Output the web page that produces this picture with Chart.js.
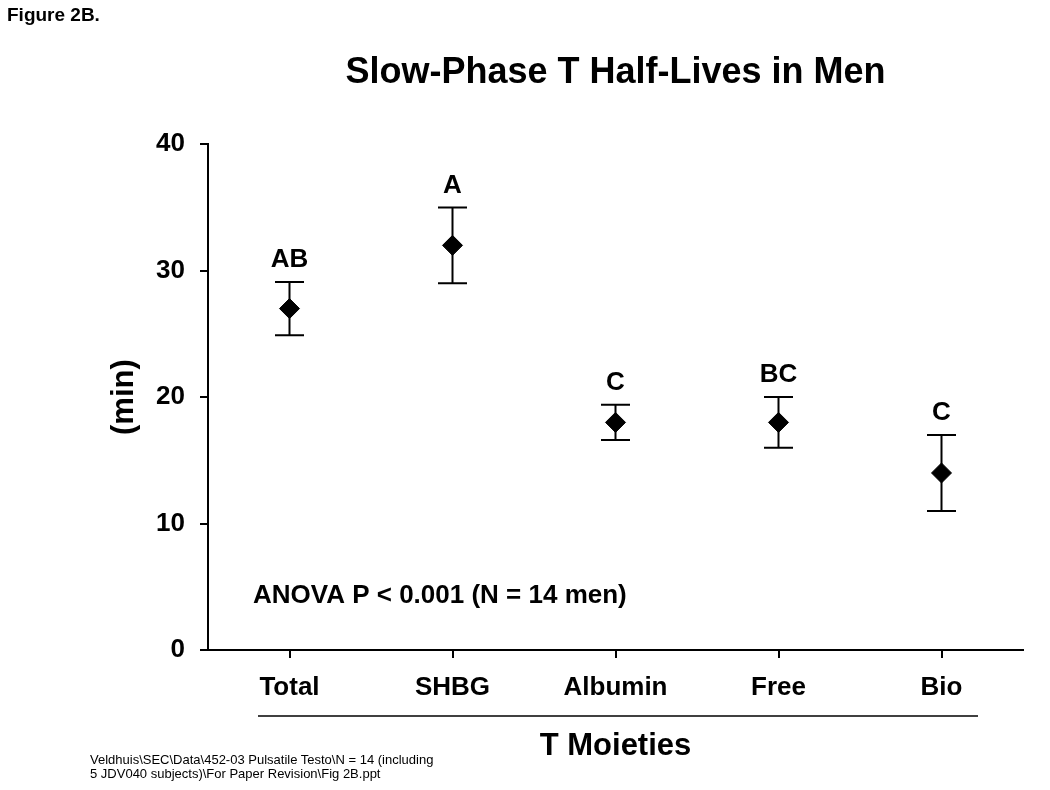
<!DOCTYPE html>
<html lang="en">
<head>
<meta charset="UTF-8">
<title>Slow-Phase T Half-Lives in Men</title>
<script src="https://cdn.jsdelivr.net/npm/chart.js"></script>
<style>
  body { margin: 0; background: #fff; }
  #wrap { position: relative; width: 1050px; height: 790px; }
  #fig { position: absolute; left: 7px; top: 4px; font: bold 19px "Liberation Sans", Arial, sans-serif; }
  #foot { position: absolute; left: 90px; top: 753px; font: 13px/14px "Liberation Sans", Arial, sans-serif; }
</style>
</head>
<body>
<div id="wrap">
  <canvas id="chart" width="1050" height="790"></canvas>
  <div id="fig">Figure 2B.</div>
  <div id="foot">Veldhuis\SEC\Data\452-03 Pulsatile Testo\N = 14 (including<br>5 JDV040 subjects)\For Paper Revision\Fig 2B.ppt</div>
</div>
<script>
// data
const moieties = ['Total', 'SHBG', 'Albumin', 'Free', 'Bio'];
const halfLife = [27.0, 32.0, 18.0, 18.0, 14.0];
const errUpper = [29.1, 35.0, 19.4, 20.0, 17.0];
const errLower = [24.9, 29.0, 16.6, 16.0, 11.0];
const groupLetters = ['AB', 'A', 'C', 'BC', 'C'];
const yTicks = [0, 10, 20, 30, 40];

const FONT = '"Liberation Sans", Arial, sans-serif';

// error bars, letters above them, ANOVA note and the underline
const extras = {
  id: 'extras',
  beforeDatasetsDraw(chart) {
    const ctx = chart.ctx, x = chart.scales.x, y = chart.scales.y;
    ctx.save();
    ctx.strokeStyle = '#000';
    ctx.lineWidth = 2;
    halfLife.forEach((v, i) => {
      const px = x.getPixelForValue(i);
      const yu = y.getPixelForValue(errUpper[i]);
      const yl = y.getPixelForValue(errLower[i]);
      ctx.beginPath();
      ctx.moveTo(px, yu); ctx.lineTo(px, yl);
      ctx.moveTo(px - 14.5, yu); ctx.lineTo(px + 14.5, yu);
      ctx.moveTo(px - 14.5, yl); ctx.lineTo(px + 14.5, yl);
      ctx.stroke();
    });
    ctx.restore();
  },
  afterDraw(chart) {
    const ctx = chart.ctx, x = chart.scales.x, y = chart.scales.y;
    const area = chart.chartArea;
    ctx.save();
    ctx.fillStyle = '#000';
    ctx.font = 'bold 26px ' + FONT;
    ctx.textAlign = 'center';
    ctx.textBaseline = 'middle';
    groupLetters.forEach((t, i) => {
      ctx.fillText(t, x.getPixelForValue(i), y.getPixelForValue(errUpper[i]) - 22);
    });
    ctx.textAlign = 'left';
    ctx.fillText('ANOVA P < 0.001 (N = 14 men)', area.left + 45, area.bottom - 54);
    ctx.strokeStyle = '#000';
    ctx.lineWidth = 1.5;
    ctx.beginPath();
    ctx.moveTo(area.left + 50, area.bottom + 66);
    ctx.lineTo(area.right - 45, area.bottom + 66);
    ctx.stroke();
    ctx.restore();
  }
};

new Chart(document.getElementById('chart'), {
  type: 'line',
  data: {
    labels: moieties,
    datasets: [{
      data: halfLife,
      showLine: false,
      pointStyle: 'rectRot',
      pointRadius: 10,
      pointBackgroundColor: '#000',
      pointBorderColor: '#000',
      pointBorderWidth: 1
    }]
  },
  options: {
    responsive: false,
    animation: false,
    events: [],
    layout: { padding: { left: 0, right: 27, top: 0, bottom: 0 } },
    plugins: {
      legend: { display: false },
      tooltip: { enabled: false },
      title: {
        display: true,
        fullSize: false,
        text: 'Slow-Phase T Half-Lives in Men',
        color: '#000',
        font: { family: FONT, size: 36, weight: 'bold' },
        padding: { top: 51, bottom: 50 }
      }
    },
    scales: {
      x: {
        type: 'category',
        offset: true,
        border: { display: true, color: '#000', width: 2 },
        grid: { drawOnChartArea: false, drawTicks: true, tickLength: 8, color: '#000', lineWidth: 2 },
        ticks: { color: '#000', padding: 14, font: { family: FONT, size: 26, weight: 'bold' } },
        title: {
          display: true,
          text: 'T Moieties',
          color: '#000',
          font: { family: FONT, size: 31, weight: 'bold' },
          padding: { top: 0, bottom: 25 }
        },
        afterFit(scale) { scale.height = 140; }
      },
      y: {
        min: yTicks[0],
        max: yTicks[yTicks.length - 1],
        afterBuildTicks(scale) { scale.ticks = yTicks.map(v => ({ value: v })); },
        border: { display: true, color: '#000', width: 2 },
        grid: { drawOnChartArea: false, drawTicks: true, tickLength: 8, color: '#000', lineWidth: 2 },
        ticks: { color: '#000', padding: 15, font: { family: FONT, size: 26, weight: 'bold' } },
        title: {
          display: true,
          text: '(min)',
          color: '#000',
          font: { family: FONT, size: 31, weight: 'bold' },
          padding: { top: 106, bottom: 0 }
        },
        afterFit(scale) { scale.width = 208; }
      }
    }
  },
  plugins: [extras]
});
</script>
</body>
</html>
